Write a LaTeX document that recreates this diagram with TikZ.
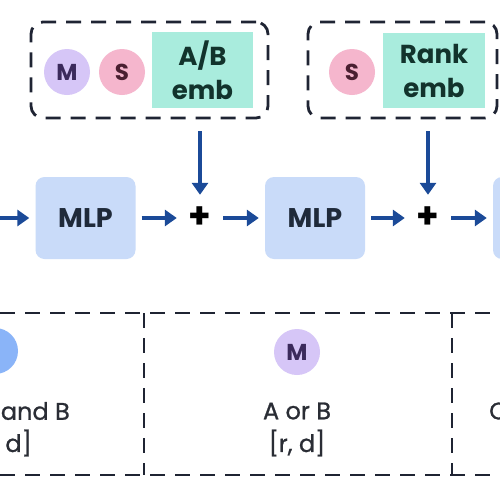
\documentclass[tikz,border=0pt]{standalone}
\usepackage{fontspec}
\setmainfont{Poppins}
\newfontfamily\medfont{Poppins}[FakeBold=0.9]
\usetikzlibrary{arrows.meta}

\definecolor{linedark}{HTML}{1F2433}
\definecolor{arrowblue}{HTML}{1B4A98}
\definecolor{lavender}{HTML}{D6C6F7}
\definecolor{lavtext}{HTML}{3B2A5C}
\definecolor{pinkish}{HTML}{F5B6CD}
\definecolor{pinktext}{HTML}{4A1F31}
\definecolor{mint}{HTML}{A9ECDD}
\definecolor{minttext}{HTML}{12332C}
\definecolor{mlpblue}{HTML}{C9DBF9}
\definecolor{mlptext}{HTML}{1F2A3A}
\definecolor{tokblue}{HTML}{8AB4F8}
\definecolor{labeltext}{HTML}{2A2D35}

\begin{document}
\begin{tikzpicture}[x=1pt, y=-1pt,
  dashbox/.style={draw=linedark, line width=2.8pt, dash pattern=on 15pt off 10pt, rounded corners=12pt, inner sep=0pt},
  dashline/.style={draw=linedark, line width=2.8pt, dash pattern=on 15pt off 10pt},
  emb/.style={fill=mint, text=minttext, font=\fontsize{26}{34}\selectfont\bfseries, align=center, inner sep=0pt},
  tok/.style={circle, minimum size=46pt, inner sep=0pt, font=\fontsize{23}{23}\selectfont\bfseries},
  mlp/.style={fill=mlpblue, rounded corners=9pt, minimum width=100pt, minimum height=82pt, inner sep=0pt, text=mlptext, font=\fontsize{27}{27}\selectfont\bfseries},
  sum/.style={circle, fill=white, minimum size=34pt, inner sep=0pt, text=black, font=\fontsize{36}{36}\selectfont\bfseries},
  arr/.style={-{Triangle[length=12pt,width=16pt]}, line width=3.6pt, draw=arrowblue, shorten <=6pt, shorten >=6pt},
  lbl/.style={text=labeltext, align=center, inner sep=0pt, font=\fontsize{24}{32}\selectfont\medfont}]

\useasboundingbox (0,0) rectangle (500,501);
\fill[white] (0,0) rectangle (500,501);

% conditioning boxes
\node[dashbox, minimum width=237pt, minimum height=96pt] (condAB) at (149.5,70) {};
\node[tok, fill=lavender, text=lavtext] (tokM) at (67,72) {M};
\node[tok, fill=pinkish, text=pinktext] (tokS) at (122,72) {S};
\node[emb, minimum width=101pt, minimum height=76pt] (embAB) at (202.5,70) {A/B\\emb};

\node[dashbox, minimum width=189pt, minimum height=96pt] (condRank) at (402.5,70) {};
\node[tok, fill=pinkish, text=pinktext] (tokS2) at (352,72) {S};
\node[emb, minimum width=102pt, minimum height=75pt] (embRank) at (434,70.5) {Rank\\emb};

% main chain
\coordinate (in) at (-6,218);
\node[mlp] (mlpA) at (85.5,218) {MLP};
\node[sum] (sumA) at (200,218) {+};
\node[mlp] (mlpB) at (315,218) {MLP};
\node[sum] (sumB) at (428,218) {+};
\node[mlp] (mlpC) at (543,218) {};

\draw[arr] (in) -- (mlpA);
\draw[arr] (mlpA) -- (sumA);
\draw[arr] (sumA) -- (mlpB);
\draw[arr] (mlpB) -- (sumB);
\draw[arr] (sumB) -- (mlpC);
\draw[arr, shorten <=12pt] (condAB.south -| sumA) -- (sumA);
\draw[arr, shorten <=12pt] (condRank.south -| sumB) -- (sumB);

% bottom table
\draw[dashline] (0,313) -- (500,313);
\draw[dashline] (0,475) -- (500,475);
\draw[dashline] (144,313) -- (144,475);
\draw[dashline] (452,313) -- (452,475);

\node[tok, fill=tokblue] (tokL) at (-5,351) {};
\node[lbl, anchor=east] (lblL) at (70,411) {and B};
\node[lbl, anchor=east] (dimL) at (32,443) {d]};

\node[tok, fill=lavender, text=lavtext] (tokM2) at (297,352) {M};
\node[lbl] (lblM) at (297,411) {A or B};
\node[lbl] (dimM) at (297,443) {[r, d]};

\node[lbl, anchor=west] (lblR) at (489,411) {C};
\end{tikzpicture}
\end{document}
